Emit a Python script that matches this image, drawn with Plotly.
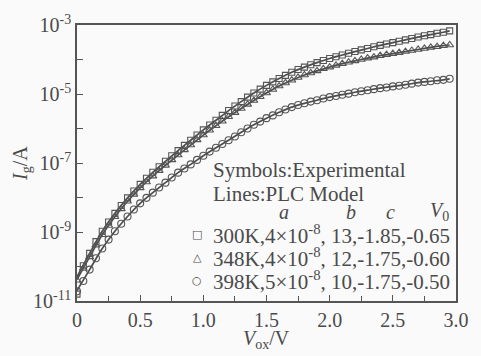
import numpy as np
import plotly.graph_objects as go

# Oxide voltage (V) of the measured points
v_exp = [0.00, 0.05, 0.10, 0.15, 0.20, 0.25, 0.30, 0.35, 0.40, 0.45,
         0.50, 0.55, 0.60, 0.65, 0.70, 0.75, 0.80, 0.85, 0.90, 0.95,
         1.00, 1.05, 1.10, 1.15, 1.20, 1.25, 1.30, 1.35, 1.40, 1.45,
         1.50, 1.55, 1.60, 1.65, 1.70, 1.75, 1.80, 1.85, 1.90, 1.95,
         2.00, 2.05, 2.10, 2.15, 2.20, 2.25, 2.30, 2.35, 2.40, 2.45,
         2.50, 2.55, 2.60, 2.65, 2.70, 2.75, 2.80, 2.85, 2.90, 2.95]

# Measured gate current, log10(Ig / A)
log_ig_300k = [-10.80, -9.98, -9.62, -9.28, -8.98, -8.71, -8.46, -8.23, -8.01, -7.81,
               -7.62, -7.44, -7.27, -7.11, -6.95, -6.79, -6.64, -6.49, -6.34, -6.19,
               -6.04, -5.90, -5.76, -5.62, -5.48, -5.35, -5.22, -5.09, -4.97, -4.86,
               -4.75, -4.65, -4.55, -4.46, -4.37, -4.29, -4.22, -4.15, -4.09, -4.03,
               -3.97, -3.92, -3.87, -3.82, -3.77, -3.72, -3.68, -3.63, -3.59, -3.55,
               -3.51, -3.47, -3.43, -3.39, -3.35, -3.31, -3.28, -3.24, -3.21, -3.17]
log_ig_348k = [-10.40, -10.06, -9.72, -9.38, -9.08, -8.81, -8.56, -8.33, -8.11, -7.91,
               -7.72, -7.55, -7.38, -7.22, -7.07, -6.91, -6.77, -6.62, -6.48, -6.33,
               -6.19, -6.05, -5.92, -5.79, -5.66, -5.54, -5.42, -5.30, -5.19, -5.08,
               -4.97, -4.87, -4.77, -4.68, -4.60, -4.52, -4.45, -4.39, -4.33, -4.27,
               -4.22, -4.17, -4.12, -4.08, -4.04, -4.00, -3.96, -3.93, -3.89, -3.86,
               -3.83, -3.80, -3.77, -3.74, -3.71, -3.68, -3.65, -3.63, -3.60, -3.58]
log_ig_398k = [-10.72, -10.42, -10.09, -9.76, -9.48, -9.22, -8.98, -8.76, -8.55, -8.35,
               -8.17, -8.01, -7.86, -7.71, -7.57, -7.42, -7.28, -7.16, -7.04, -6.91,
               -6.79, -6.67, -6.56, -6.45, -6.34, -6.23, -6.11, -6.00, -5.89, -5.80,
               -5.70, -5.62, -5.53, -5.45, -5.38, -5.32, -5.27, -5.22, -5.18, -5.13,
               -5.09, -5.06, -5.02, -4.99, -4.95, -4.92, -4.89, -4.86, -4.83, -4.81,
               -4.78, -4.76, -4.73, -4.70, -4.67, -4.65, -4.63, -4.60, -4.59, -4.56]

# PLC model curves, log10(Ig / A)
v_model = [0.0, 0.1, 0.2, 0.3, 0.4, 0.5, 0.6, 0.7, 0.8, 0.9,
           1.0, 1.1, 1.2, 1.3, 1.4, 1.5, 1.6, 1.7, 1.8, 1.9,
           2.0, 2.1, 2.2, 2.3, 2.4, 2.5, 2.6, 2.7, 2.8, 2.9, 2.95]
log_plc_300k = [-10.30, -9.62, -8.98, -8.46, -8.01, -7.62, -7.27, -6.95, -6.64, -6.34,
                -6.04, -5.76, -5.48, -5.22, -4.97, -4.75, -4.55, -4.37, -4.22, -4.09,
                -3.97, -3.87, -3.77, -3.68, -3.59, -3.51, -3.43, -3.35, -3.28, -3.21, -3.17]
log_plc_348k = [-10.38, -9.72, -9.08, -8.56, -8.11, -7.72, -7.38, -7.07, -6.77, -6.48,
                -6.19, -5.92, -5.66, -5.42, -5.19, -4.97, -4.77, -4.60, -4.45, -4.33,
                -4.22, -4.12, -4.04, -3.96, -3.89, -3.83, -3.77, -3.71, -3.65, -3.60, -3.58]
log_plc_398k = [-10.70, -10.09, -9.48, -8.98, -8.55, -8.17, -7.86, -7.57, -7.28, -7.04,
                -6.79, -6.56, -6.34, -6.11, -5.89, -5.70, -5.53, -5.38, -5.27, -5.18,
                -5.09, -5.02, -4.95, -4.89, -4.83, -4.78, -4.73, -4.67, -4.63, -4.59, -4.56]

# Key rows: temperature and fitted a, b, c, V0
series_labels = ["300K,4×10<sup>-8</sup>, 13,-1.85,-0.65",
                 "348K,4×10<sup>-8</sup>, 12,-1.75,-0.60",
                 "398K,5×10<sup>-8</sup>, 10,-1.75,-0.50"]
key_glyphs = ["□", "△", "○"]
symbols = ["square-open", "triangle-up-open", "circle-open"]
marker_sizes = [6, 7, 7]

x_ticks = [0, 0.5, 1.0, 1.5, 2.0, 2.5, 3.0]
x_ticktext = ["0", "0.5", "1.0", "1.5", "2.0", "2.5", "3.0"]
y_tick_exp = [-3, -5, -7, -9, -11]

SERIF = "Liberation Serif, Times New Roman, serif"
INK = "#4a4a4a"

fig = go.Figure()

for log_plc in [log_plc_300k, log_plc_348k, log_plc_398k]:
    fig.add_trace(go.Scatter(
        x=v_model, y=10 ** np.array(log_plc), mode="lines",
        line=dict(color="#4c4c4c", width=1.7, shape="spline"),
        showlegend=False, hoverinfo="skip"))

for log_ig, name, sym, ms in zip([log_ig_300k, log_ig_348k, log_ig_398k],
                                 series_labels, symbols, marker_sizes):
    fig.add_trace(go.Scatter(
        x=v_exp, y=10 ** np.array(log_ig), mode="markers", name=name,
        showlegend=False,
        marker=dict(symbol=sym, size=ms, color="#555555",
                    line=dict(color="#555555", width=1.1))))

axis_common = dict(showline=True, linecolor="#555555", linewidth=1.5, mirror=True,
                   ticks="inside", ticklen=6, tickwidth=1.3, tickcolor="#555555",
                   showgrid=False, zeroline=False,
                   tickfont=dict(family=SERIF, size=20, color=INK))

fig.update_xaxes(range=[0, 3.0], tickmode="array", tickvals=x_ticks, ticktext=x_ticktext,
                 minor=dict(ticks="inside", ticklen=5, tickwidth=1.2, tickcolor="#555555",
                            tickvals=[0.25, 0.75, 1.25, 1.75, 2.25, 2.75]),
                 **axis_common)
fig.update_yaxes(type="log", range=[-11, -3], tickmode="array",
                 tickvals=[10.0 ** e for e in y_tick_exp],
                 ticktext=["10<sup>%d</sup>" % e for e in y_tick_exp],
                 minor=dict(ticks="inside", ticklen=6, tickwidth=1.2, tickcolor="#555555",
                            tickvals=[10.0 ** e for e in [-4, -6, -8, -10]]),
                 **axis_common)

annotations = [
    dict(text="<i>V</i><sub>ox</sub>/V", x=0.5, y=-0.138, xanchor="center", yanchor="middle",
         font=dict(size=20)),
    dict(text="<i>I</i><sub>g</sub>/A", x=-0.148, y=0.5, textangle=-90,
         xanchor="center", yanchor="middle", font=dict(size=20)),
    dict(text="Symbols:Experimental", x=0.353, y=0.476, xanchor="left", yanchor="middle",
         font=dict(size=21)),
    dict(text="Lines:PLC Model", x=0.353, y=0.388, xanchor="left", yanchor="middle",
         font=dict(size=21)),
    dict(text="<i>a</i>", x=0.545, y=0.324, xanchor="center", yanchor="middle",
         font=dict(size=20)),
    dict(text="<i>b</i>", x=0.722, y=0.324, xanchor="center", yanchor="middle",
         font=dict(size=20)),
    dict(text="<i>c</i>", x=0.826, y=0.324, xanchor="center", yanchor="middle",
         font=dict(size=20)),
    dict(text="<i>V</i><sub>0</sub>", x=0.956, y=0.324, xanchor="center", yanchor="middle",
         font=dict(size=20)),
]
row_y = [0.241, 0.157, 0.073]
for label, glyph, ry in zip(series_labels, key_glyphs, row_y):
    annotations.append(dict(text=glyph, x=0.317, y=ry, xanchor="center", yanchor="middle",
                            font=dict(size=11, family="DejaVu Sans")))
    annotations.append(dict(text=label, x=0.353, y=ry, xanchor="left", yanchor="middle",
                            font=dict(size=21)))
for a in annotations:
    a.update(xref="paper", yref="paper", showarrow=False)
    a["font"].setdefault("family", SERIF)
    a["font"]["color"] = INK

fig.update_layout(
    width=481, height=356,
    margin=dict(l=77, r=19, t=15, b=55),
    paper_bgcolor="#fafafa", plot_bgcolor="#fafafa",
    annotations=annotations,
    showlegend=False,
)

fig.write_html("out.html")
